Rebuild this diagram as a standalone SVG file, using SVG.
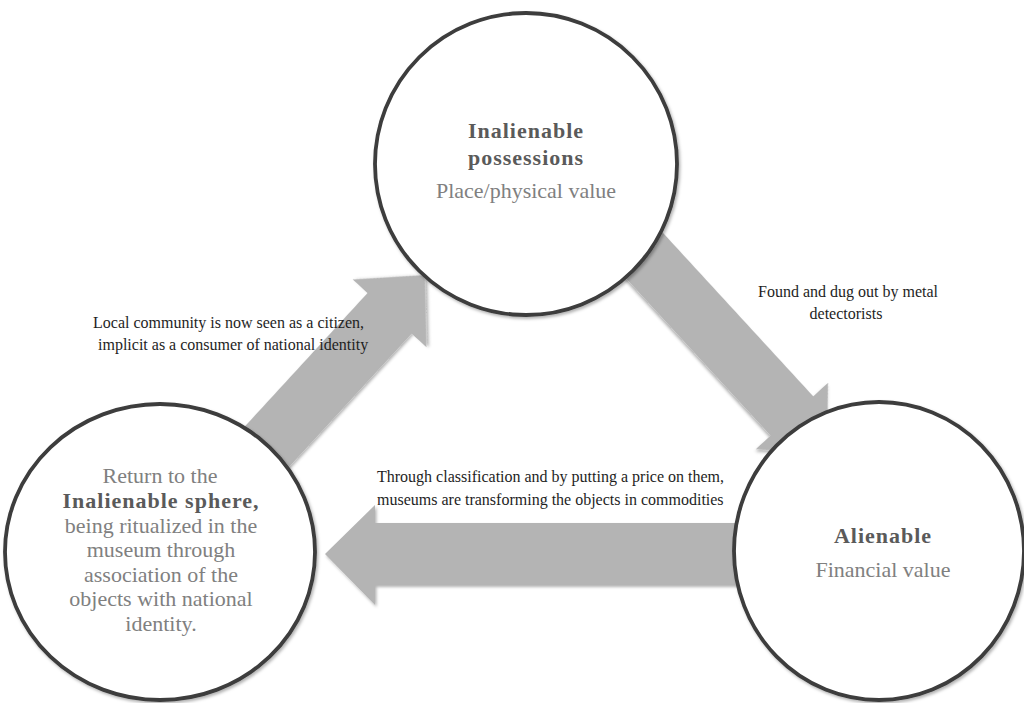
<svg xmlns="http://www.w3.org/2000/svg" width="1024" height="703" viewBox="0 0 1024 703" font-family="'Liberation Serif', 'DejaVu Serif', serif">
  <defs>
    <filter id="shadow" x="-20%" y="-20%" width="140%" height="140%">
      <feDropShadow dx="1.5" dy="2" stdDeviation="1.5" flood-color="#000" flood-opacity="0.3"/>
    </filter>
    <style>
      .arrow { fill: #b4b4b4; filter: url(#shadow); }
      .node { fill: #ffffff; stroke: #3c3c3c; stroke-width: 3.8; filter: url(#shadow); }
      .title { font-size: 22px; font-weight: bold; fill: #5a5a5a; letter-spacing: 1px; text-anchor: middle; }
      .sub { font-size: 22px; fill: #808080; text-anchor: middle; }
      .label { font-size: 16px; fill: #1e1e1e; }
    </style>
  </defs>
  <rect width="1024" height="703" fill="#ffffff"/>

  <g id="connectors">
    <path class="arrow" transform="translate(263,451) rotate(-47.4)" d="M-12,-30 L187,-30 L187,-50 L239,0 L187,50 L187,30 L-12,30 Z"/>
    <path class="arrow" transform="translate(643,254) rotate(47.4)" d="M-15,-29 L220,-29 L220,-49 L272,0 L220,49 L220,29 L-15,29 Z"/>
    <path class="arrow" d="M745,523 L375,523 L375,505 L325,554 L375,605 L375,585 L745,585 Z"/>
  </g>

  <g id="node-top" font-family="Liberation Serif, serif">
    <circle class="node" cx="526" cy="164" r="151"/>
    <text class="title" x="526" y="138">Inalienable</text>
    <text class="title" x="526" y="165">possessions</text>
    <text class="sub" x="526" y="198">Place/physical value</text>
  </g>

  <g id="node-left" font-family="Liberation Serif, serif">
    <ellipse class="node" cx="160" cy="552" rx="155" ry="148"/>
    <text class="sub" x="160" y="483">Return to the</text>
    <text class="title" x="161" y="508">Inalienable sphere,</text>
    <text class="sub" x="161" y="533">being ritualized in the</text>
    <text class="sub" x="161" y="557">museum through</text>
    <text class="sub" x="161" y="582">association of the</text>
    <text class="sub" x="161" y="606">objects with national</text>
    <text class="sub" x="161" y="631">identity.</text>
  </g>

  <g id="node-right" font-family="Liberation Serif, serif">
    <ellipse class="node" cx="879" cy="551" rx="145" ry="149"/>
    <text class="title" x="883" y="543">Alienable</text>
    <text class="sub" x="883" y="577">Financial value</text>
  </g>

  <g id="labels" font-family="Liberation Serif, serif">
    <text class="label" x="93" y="328">Local community is now seen as a citizen,</text>
    <text class="label" x="98" y="350">implicit as a consumer of national identity</text>
    <text class="label" x="848" y="297" text-anchor="middle">Found and dug out by metal</text>
    <text class="label" x="846" y="319" text-anchor="middle">detectorists</text>
    <text class="label" x="377" y="482">Through classification and by putting a price on them,</text>
    <text class="label" x="377" y="505">museums are transforming the objects in commodities</text>
  </g>
</svg>
